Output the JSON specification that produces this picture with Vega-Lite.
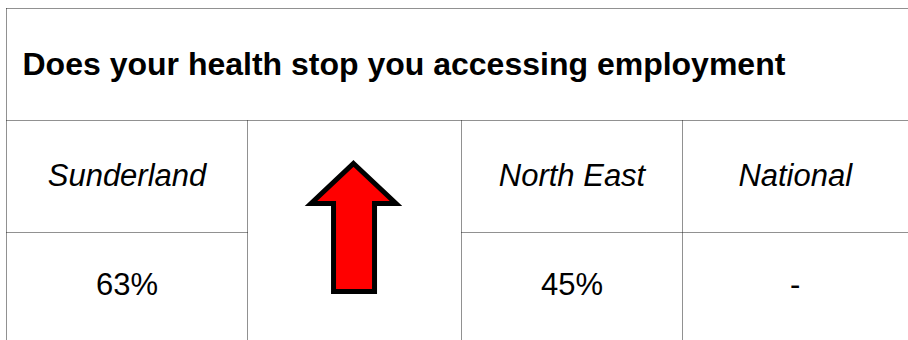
{
  "$schema": "https://vega.github.io/schema/vega-lite/v6.json",
  "width": 908,
  "height": 340,
  "autosize": {"type": "none"},
  "padding": 0,
  "background": "white",
  "config": {"view": {"stroke": null}},
  "datasets": {
    "lines": [
      {"x": 0.5, "x2": 4.5, "y": 0.5, "y2": 0.5},
      {"x": 0.5, "x2": 4.5, "y": 1.5, "y2": 1.5},
      {"x": 0.5, "x2": 1.5, "y": 2.5, "y2": 2.5},
      {"x": 2.5, "x2": 4.5, "y": 2.5, "y2": 2.5},
      {"x": 0.5, "x2": 0.5, "y": 0.5, "y2": 3.5},
      {"x": 1.5, "x2": 1.5, "y": 1.5, "y2": 3.5},
      {"x": 2.5, "x2": 2.5, "y": 1.5, "y2": 3.5},
      {"x": 3.5, "x2": 3.5, "y": 1.5, "y2": 3.5}
    ],
    "title": [
      {"edge": 0.5, "row": 1, "text": "Does your health stop you accessing employment"}
    ],
    "labels": [
      {"col": 1, "row": 2, "text": "Sunderland"},
      {"col": 3, "row": 2, "text": "North East"},
      {"col": 4, "row": 2, "text": "National"}
    ],
    "values": [
      {"col": 1, "row": 3, "text": "63%"},
      {"col": 3, "row": 3, "text": "45%"},
      {"col": 4, "row": 3, "text": "-"}
    ],
    "trend": [
      {"col": 2, "row": 2.5, "direction": "up"}
    ]
  },
  "resolve": {"scale": {"x": "shared", "y": "shared"}},
  "layer": [
    {
      "data": {"name": "lines"},
      "mark": {"type": "rule", "stroke": "#222222", "strokeWidth": 1, "strokeDash": [1, 1]},
      "encoding": {
        "x": {"field": "x", "type": "quantitative", "axis": null,
              "scale": {"domain": [0.5, 1.5, 2.5, 3.5, 4.5], "range": [6.5, 247.5, 461.5, 682.5, 908], "nice": false, "zero": false}},
        "x2": {"field": "x2"},
        "y": {"field": "y", "type": "quantitative", "axis": null,
              "scale": {"domain": [0.5, 1.5, 2.5, 3.5], "range": [8.5, 120.5, 232.5, 340], "nice": false, "zero": false}},
        "y2": {"field": "y2"}
      }
    },
    {
      "data": {"name": "title"},
      "mark": {"type": "text", "align": "left", "baseline": "middle", "dx": 16, "font": "Liberation Sans", "fontSize": 32, "fontWeight": "bold", "color": "#000000"},
      "encoding": {
        "x": {"field": "edge", "type": "quantitative"},
        "y": {"field": "row", "type": "quantitative"},
        "text": {"field": "text"}
      }
    },
    {
      "data": {"name": "labels"},
      "mark": {"type": "text", "align": "center", "baseline": "middle", "font": "Liberation Sans", "fontSize": 31, "fontStyle": "italic", "color": "#000000"},
      "encoding": {
        "x": {"field": "col", "type": "quantitative"},
        "y": {"field": "row", "type": "quantitative"},
        "text": {"field": "text"}
      }
    },
    {
      "data": {"name": "values"},
      "mark": {"type": "text", "align": "center", "baseline": "middle", "font": "Liberation Sans", "fontSize": 31, "color": "#000000"},
      "encoding": {
        "x": {"field": "col", "type": "quantitative"},
        "y": {"field": "row", "type": "quantitative"},
        "text": {"field": "text"}
      }
    },
    {
      "data": {"name": "trend"},
      "mark": {"type": "point", "filled": true, "fill": "#ff0000", "fillOpacity": 1, "stroke": "#000000", "strokeWidth": 5, "strokeOpacity": 1, "strokeJoin": "miter", "size": 17956,
               "shape": "M-0.015,-1.03L0.619,-0.433L0.299,-0.433L0.299,0.881L-0.313,0.881L-0.313,-0.433L-0.649,-0.433Z"},
      "encoding": {
        "x": {"field": "col", "type": "quantitative"},
        "y": {"field": "row", "type": "quantitative"}
      }
    }
  ]
}
